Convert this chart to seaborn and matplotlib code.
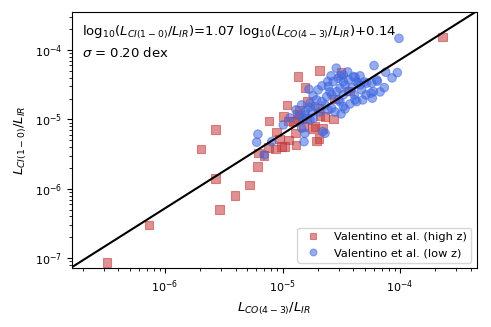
import numpy as np
import pandas as pd
import matplotlib
matplotlib.use("Agg")
import matplotlib.pyplot as plt
import seaborn as sns

# log10(L_CO(4-3)/L_IR) and log10(L_CI(1-0)/L_IR), Valentino et al. high z
high_z_logx = [
    -6.494, -6.136, -5.536, -5.694, -5.569, -5.569, -5.404, -5.283, -3.637,
    -4.868, -4.687, -4.502, -4.809, -4.962, -4.789, -4.431, -4.559, -5.115,
    -5.211, -5.206, -5.157, -5.121, -5.058, -4.981, -4.951, -5.027, -5.049,
    -4.891, -4.885, -4.990, -4.947, -4.871, -4.866, -4.823, -4.794, -4.723,
    -4.709, -4.681, -4.692, -4.854, -4.638, -4.568, -4.743, -4.661, -4.689,
    -4.908, -5.007,
]
high_z_logy = [
    -7.061, -6.520, -6.294, -5.425, -5.147, -5.853, -6.092, -5.944, -3.815,
    -4.383, -4.297, -4.326, -4.542, -4.791, -4.743, -4.589, -4.705, -5.022,
    -5.680, -5.483, -5.516, -5.401, -5.429, -5.392, -5.295, -5.285, -5.184,
    -5.194, -5.367, -4.960, -5.022, -4.921, -4.997, -5.104, -4.983, -5.104,
    -5.310, -4.950, -4.834, -4.863, -4.960, -4.997, -5.127, -5.127, -5.271,
    -5.032, -5.392,
]

# Valentino et al. low z
low_z_logx = [
    -4.009, -4.221, -4.542, -4.122, -4.023, -4.445, -4.383, -4.193, -4.134,
    -4.304, -4.615, -4.355, -4.247, -4.326, -4.236, -4.317, -4.389, -4.483,
    -4.775, -5.209, -5.220, -5.155, -4.993, -5.092, -4.837, -4.806, -4.768,
    -4.857, -4.738, -4.817, -4.658, -4.610, -4.511, -4.369, -4.581, -4.483,
    -4.502, -4.638, -4.610, -4.568, -4.525, -4.483, -4.440, -4.397, -4.369,
    -4.340, -4.283, -4.241, -4.198, -4.227, -4.383, -4.440, -4.483, -4.511,
    -4.539, -4.581, -4.624, -4.666, -4.709, -4.723, -4.766, -4.809, -4.823,
    -4.766, -4.837, -4.809, -4.468, -4.698, -4.664, -4.596, -4.468, -4.409,
    -4.525, -4.426, -4.289, -4.170, -4.740, -4.638, -4.553, -4.885, -4.749,
    -4.681, -4.936, -4.068, -4.340, -4.511, -4.587,
]
low_z_logy = [
    -3.833, -4.225, -4.262, -4.320, -4.326, -4.316, -4.392, -4.450, -4.542,
    -4.460, -4.455, -4.478, -4.622, -4.575, -4.694, -4.719, -4.647, -4.455,
    -4.565, -5.213, -5.328, -5.511, -5.079, -5.320, -4.791, -4.888, -4.824,
    -4.950, -4.983, -5.320, -5.176, -4.863, -4.743, -4.743, -4.839, -4.815,
    -4.921, -5.199, -4.527, -4.455, -4.406, -4.359, -4.431, -4.383, -4.455,
    -4.503, -4.478, -4.478, -4.431, -4.599, -4.719, -4.599, -4.647, -4.550,
    -4.599, -4.647, -4.671, -4.743, -4.719, -4.815, -4.767, -4.935, -5.007,
    -5.007, -5.127, -5.199, -4.849, -4.575, -4.517, -4.604, -4.503, -4.546,
    -4.719, -4.777, -4.647, -4.604, -4.661, -4.791, -4.892, -4.863, -4.892,
    -4.892, -4.978, -4.402, -4.373, -4.373, -4.373,
]

fit_slope = 1.07
fit_intercept = 0.14
fit_sigma = 0.20

sample_labels = ["Valentino et al. (high z)", "Valentino et al. (low z)"]

df = pd.concat([
    pd.DataFrame({"x": 10 ** np.array(high_z_logx), "y": 10 ** np.array(high_z_logy),
                  "sample": sample_labels[0]}),
    pd.DataFrame({"x": 10 ** np.array(low_z_logx), "y": 10 ** np.array(low_z_logy),
                  "sample": sample_labels[1]}),
])

fig = plt.figure(figsize=(4.91, 3.27), dpi=100)
ax = fig.add_axes([0.146, 0.1795, 0.8255, 0.783])

sns.scatterplot(
    data=df,
    x="x",
    y="y",
    hue="sample",
    style="sample",
    markers={sample_labels[0]: "s", sample_labels[1]: "o"},
    palette={sample_labels[0]: "#c4393b", sample_labels[1]: "royalblue"},
    s=38,
    alpha=0.55,
    edgecolor="face",
    linewidth=0.8,
    ax=ax,
)

ax.set_xscale("log")
ax.set_yscale("log")
ax.set_xlim(1.607e-7, 4.52e-4)
ax.set_ylim(7.18e-8, 3.49e-4)

xx = np.logspace(-7, -3, 50)
ax.plot(xx, 10 ** (fit_slope * np.log10(xx) + fit_intercept), color="black", lw=1.5, zorder=5)

ax.text(
    0.025, 0.955,
    r"log$_{10}$($L_{CI(1-0)}/L_{IR}$)=%.2f log$_{10}$($L_{CO(4-3)}/L_{IR}$)+%.2f" % (fit_slope, fit_intercept)
    + "\n" + r"$\sigma$ = %.2f dex" % fit_sigma,
    transform=ax.transAxes,
    fontsize=9.5,
    va="top",
    linespacing=1.5,
)

ax.set_xlabel(r"$L_{CO(4-3)}/L_{IR}$", fontsize=9.5)
ax.set_ylabel(r"$L_{CI(1-0)}/L_{IR}$", fontsize=9.5)
ax.tick_params(labelsize=8)

ax.legend(loc="lower right", fontsize=8.2, title=None, markerscale=0.8)

plt.savefig("out.png", dpi=100)
plt.close()
